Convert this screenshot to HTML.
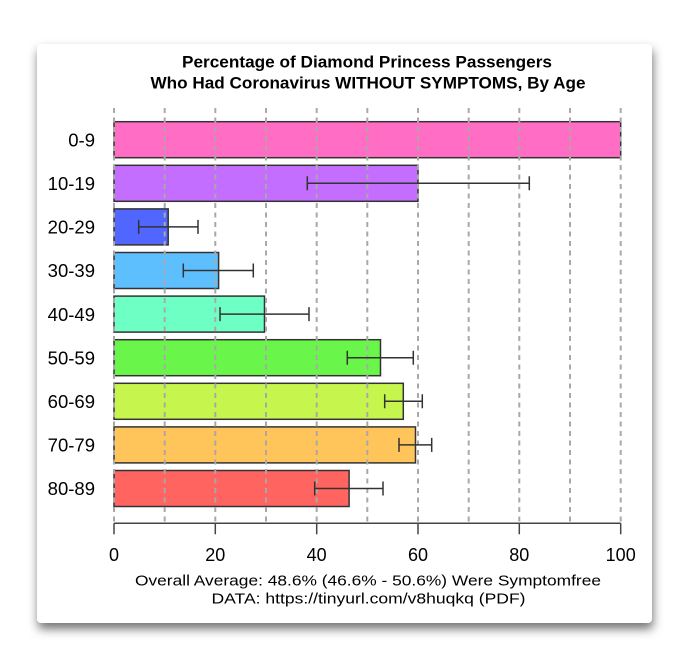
<!DOCTYPE html>
<html><head><meta charset="utf-8">
<style>
html,body{margin:0;padding:0;background:#fff;}
body{width:689px;height:668px;position:relative;overflow:hidden;}
.card{position:absolute;left:37px;top:44px;width:615px;height:579px;background:#fff;border-radius:4px;box-shadow:1px 6px 10px rgba(0,0,0,0.55);}
svg{position:absolute;left:0;top:0;}
</style></head>
<body>
<div class="card"></div>
<svg width="689" height="668" viewBox="0 0 689 668" font-family="'Liberation Sans', Arial, sans-serif">
<text x="367" y="67.3" font-size="17" font-weight="bold" text-anchor="middle" textLength="370" lengthAdjust="spacingAndGlyphs" fill="#000">Percentage of Diamond Princess Passengers</text>
<text x="368" y="88.3" font-size="17" font-weight="bold" text-anchor="middle" textLength="435" lengthAdjust="spacingAndGlyphs" fill="#000">Who Had Coronavirus WITHOUT SYMPTOMS, By Age</text>

<!-- bars -->
<g stroke="#333" stroke-width="1.5">
<rect x="114" y="121.7" width="506.7" height="36" fill="#FF6EC4"/>
<rect x="114" y="165.3" width="304.0" height="36" fill="#C46EFF"/>
<rect x="114" y="208.9" width="54.2" height="36" fill="#5066FF"/>
<rect x="114" y="252.5" width="104.6" height="36" fill="#5EBFFF"/>
<rect x="114" y="296.1" width="150.5" height="36" fill="#6EFFC4"/>
<rect x="114" y="339.7" width="266.5" height="36" fill="#6AF54A"/>
<rect x="114" y="383.3" width="289.3" height="36" fill="#C6F54E"/>
<rect x="114" y="426.9" width="301.5" height="36" fill="#FFC45A"/>
<rect x="114" y="470.5" width="235.1" height="36" fill="#FF6460"/>
</g>

<!-- grid -->
<g stroke="#a8a8a8" stroke-width="2" stroke-dasharray="5 4.5">
<line x1="114" y1="108" x2="114" y2="523"/>
<line x1="164.7" y1="108" x2="164.7" y2="523"/>
<line x1="215.3" y1="108" x2="215.3" y2="523"/>
<line x1="266" y1="108" x2="266" y2="523"/>
<line x1="316.7" y1="108" x2="316.7" y2="523"/>
<line x1="367.3" y1="108" x2="367.3" y2="523"/>
<line x1="418" y1="108" x2="418" y2="523"/>
<line x1="468.7" y1="108" x2="468.7" y2="523"/>
<line x1="519.3" y1="108" x2="519.3" y2="523"/>
<line x1="570" y1="108" x2="570" y2="523"/>
<line x1="620.7" y1="108" x2="620.7" y2="523"/>
</g>

<!-- error bars -->
<g stroke="#333" stroke-width="1.5" fill="none">
<path d="M307.3 183.3H529.3M307.3 176.3V190.3M529.3 176.3V190.3"/>
<path d="M138.7 226.9H198M138.7 219.9V233.9M198 219.9V233.9"/>
<path d="M183.3 270.5H253.3M183.3 263.5V277.5M253.3 263.5V277.5"/>
<path d="M220 314.1H309M220 307.1V321.1M309 307.1V321.1"/>
<path d="M347.3 357.7H413.3M347.3 350.7V364.7M413.3 350.7V364.7"/>
<path d="M384.7 401.3H422.3M384.7 394.3V408.3M422.3 394.3V408.3"/>
<path d="M399 444.9H431.7M399 437.9V451.9M431.7 437.9V451.9"/>
<path d="M314.7 488.5H383M314.7 481.5V495.5M383 481.5V495.5"/>
</g>

<!-- y labels -->
<g font-size="18.5" text-anchor="end" fill="#000">
<text x="95" y="146.4">0-9</text>
<text x="95" y="190">10-19</text>
<text x="95" y="233.6">20-29</text>
<text x="95" y="277.2">30-39</text>
<text x="95" y="320.8">40-49</text>
<text x="95" y="364.4">50-59</text>
<text x="95" y="408">60-69</text>
<text x="95" y="451.6">70-79</text>
<text x="95" y="495.2">80-89</text>
</g>

<!-- x axis -->
<g stroke="#444" stroke-width="1.5">
<line x1="114" y1="523.3" x2="620.7" y2="523.3"/>
<line x1="114" y1="523.3" x2="114" y2="534.3"/>
<line x1="215.3" y1="523.3" x2="215.3" y2="534.3"/>
<line x1="316.7" y1="523.3" x2="316.7" y2="534.3"/>
<line x1="418" y1="523.3" x2="418" y2="534.3"/>
<line x1="519.3" y1="523.3" x2="519.3" y2="534.3"/>
<line x1="620.7" y1="523.3" x2="620.7" y2="534.3"/>
</g>
<g font-size="18" text-anchor="middle" fill="#000">
<text x="114" y="561">0</text>
<text x="215.3" y="561">20</text>
<text x="316.7" y="561">40</text>
<text x="418" y="561">60</text>
<text x="519.3" y="561">80</text>
<text x="620.7" y="561">100</text>
</g>

<text x="368" y="585.7" font-size="14.5" text-anchor="middle" textLength="466" lengthAdjust="spacingAndGlyphs" fill="#000">Overall Average: 48.6% (46.6% - 50.6%) Were Symptomfree</text>
<text x="368.5" y="603.3" font-size="14.5" text-anchor="middle" textLength="314" lengthAdjust="spacingAndGlyphs" fill="#000">DATA: https://tinyurl.com/v8huqkq (PDF)</text>
</svg>
</body></html>
